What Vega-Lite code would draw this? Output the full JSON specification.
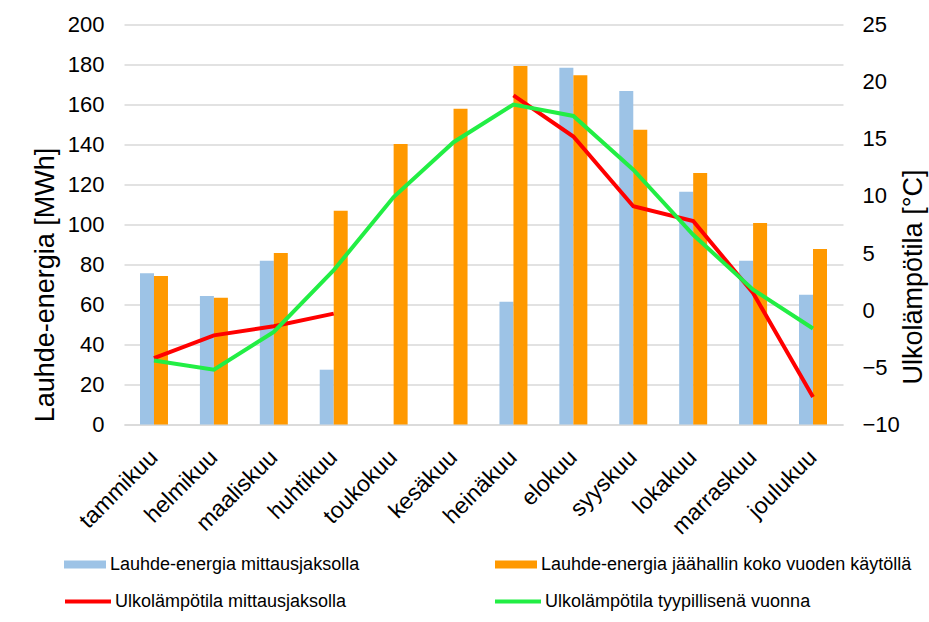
{
  "$schema": "https://vega.github.io/schema/vega-lite/v6.json",
  "autosize": {"type": "none"},
  "width": 719,
  "height": 400,
  "padding": {"left": 124, "top": 24.5, "right": 86, "bottom": 197.5},
  "background": "white",
  "config": {
    "font": "Liberation Sans",
    "view": {"stroke": null},
    "axis": {
      "labelColor": "#000000",
      "titleColor": "#000000",
      "labelFont": "Liberation Sans",
      "titleFont": "Liberation Sans",
      "titleFontWeight": "normal",
      "ticks": false
    },
    "legend": {
      "labelFont": "Liberation Sans",
      "labelFontSize": 18,
      "labelColor": "#000000",
      "padding": 0,
      "labelLimit": 400
    }
  },
  "data": {
    "values": [
      {"kuukausi": "tammikuu", "Lauhde-energia mittausjaksolla": 75.6, "Lauhde-energia jäähallin koko vuoden käytöllä": 74.2, "Ulkolämpötila mittausjaksolla": -4.2, "Ulkolämpötila tyypillisenä vuonna": -4.4},
      {"kuukausi": "helmikuu", "Lauhde-energia mittausjaksolla": 64.2, "Lauhde-energia jäähallin koko vuoden käytöllä": 63.4, "Ulkolämpötila mittausjaksolla": -2.2, "Ulkolämpötila tyypillisenä vuonna": -5.2},
      {"kuukausi": "maaliskuu", "Lauhde-energia mittausjaksolla": 81.9, "Lauhde-energia jäähallin koko vuoden käytöllä": 85.7, "Ulkolämpötila mittausjaksolla": -1.4, "Ulkolämpötila tyypillisenä vuonna": -1.9},
      {"kuukausi": "huhtikuu", "Lauhde-energia mittausjaksolla": 27.4, "Lauhde-energia jäähallin koko vuoden käytöllä": 106.9, "Ulkolämpötila mittausjaksolla": -0.3, "Ulkolämpötila tyypillisenä vuonna": 3.5},
      {"kuukausi": "toukokuu", "Lauhde-energia mittausjaksolla": null, "Lauhde-energia jäähallin koko vuoden käytöllä": 140.2, "Ulkolämpötila mittausjaksolla": null, "Ulkolämpötila tyypillisenä vuonna": 9.9},
      {"kuukausi": "kesäkuu", "Lauhde-energia mittausjaksolla": null, "Lauhde-energia jäähallin koko vuoden käytöllä": 157.9, "Ulkolämpötila mittausjaksolla": null, "Ulkolämpötila tyypillisenä vuonna": 14.7},
      {"kuukausi": "heinäkuu", "Lauhde-energia mittausjaksolla": 61.4, "Lauhde-energia jäähallin koko vuoden käytöllä": 179.2, "Ulkolämpötila mittausjaksolla": 18.8, "Ulkolämpötila tyypillisenä vuonna": 18.0},
      {"kuukausi": "elokuu", "Lauhde-energia mittausjaksolla": 178.4, "Lauhde-energia jäähallin koko vuoden käytöllä": 174.6, "Ulkolämpötila mittausjaksolla": 15.2, "Ulkolämpötila tyypillisenä vuonna": 17.0},
      {"kuukausi": "syyskuu", "Lauhde-energia mittausjaksolla": 166.7, "Lauhde-energia jäähallin koko vuoden käytöllä": 147.4, "Ulkolämpötila mittausjaksolla": 9.1, "Ulkolämpötila tyypillisenä vuonna": 12.3},
      {"kuukausi": "lokakuu", "Lauhde-energia mittausjaksolla": 116.4, "Lauhde-energia jäähallin koko vuoden käytöllä": 125.7, "Ulkolämpötila mittausjaksolla": 7.8, "Ulkolämpötila tyypillisenä vuonna": 6.6},
      {"kuukausi": "marraskuu", "Lauhde-energia mittausjaksolla": 81.9, "Lauhde-energia jäähallin koko vuoden käytöllä": 100.7, "Ulkolämpötila mittausjaksolla": 1.5, "Ulkolämpötila tyypillisenä vuonna": 1.8},
      {"kuukausi": "joulukuu", "Lauhde-energia mittausjaksolla": 64.9, "Lauhde-energia jäähallin koko vuoden käytöllä": 87.7, "Ulkolämpötila mittausjaksolla": -7.6, "Ulkolämpötila tyypillisenä vuonna": -1.6}
    ]
  },
  "layer": [
    {
      "transform": [
        {"fold": ["Lauhde-energia mittausjaksolla", "Lauhde-energia jäähallin koko vuoden käytöllä"], "as": ["sarja", "energia"]}
      ],
      "mark": {"type": "bar"},
      "encoding": {
        "x": {
          "field": "kuukausi",
          "type": "nominal",
          "sort": ["tammikuu", "helmikuu", "maaliskuu", "huhtikuu", "toukokuu", "kesäkuu", "heinäkuu", "elokuu", "syyskuu", "lokakuu", "marraskuu", "joulukuu"],
          "scale": {"paddingInner": 0.533, "paddingOuter": 0.267},
          "axis": {
            "title": null,
            "labelAngle": -45,
            "labelAlign": "right",
            "labelBaseline": "middle",
            "labelFontSize": 23,
            "labelPadding": 29,
            "domainColor": "#d9d9d9",
            "domainWidth": 1.5
          }
        },
        "xOffset": {
          "field": "sarja",
          "type": "nominal",
          "sort": ["Lauhde-energia mittausjaksolla", "Lauhde-energia jäähallin koko vuoden käytöllä"],
          "scale": {"paddingInner": 0, "paddingOuter": 0}
        },
        "y": {
          "field": "energia",
          "type": "quantitative",
          "scale": {"domain": [0, 200], "nice": false},
          "axis": {
            "title": "Lauhde-energia [MWh]",
            "titleFontSize": 27,
            "titleAngle": 270,
            "titleBaseline": "middle",
            "titleAlign": "center",
            "titleX": -79,
            "titleY": 260,
            "values": [0, 20, 40, 60, 80, 100, 120, 140, 160, 180, 200],
            "labelFontSize": 22,
            "labelPadding": 20,
            "domain": false,
            "grid": true,
            "gridColor": "#d9d9d9",
            "gridWidth": 1.5
          }
        },
        "fill": {
          "field": "sarja",
          "type": "nominal",
          "scale": {
            "domain": ["Lauhde-energia mittausjaksolla", "Lauhde-energia jäähallin koko vuoden käytöllä"],
            "range": ["#9dc3e6", "#ff9900"]
          },
          "legend": {
            "title": null,
            "orient": "none",
            "legendX": -60,
            "legendY": 519,
            "direction": "horizontal",
            "columns": 2,
            "columnPadding": 135,
            "labelOffset": 4,
            "symbolType": "M-1,-0.19H1V0.19H-1Z",
            "symbolSize": 1764,
            "symbolStrokeWidth": 0
          }
        }
      }
    },
    {
      "transform": [
        {"fold": ["Ulkolämpötila mittausjaksolla", "Ulkolämpötila tyypillisenä vuonna"], "as": ["sarja", "lampotila"]}
      ],
      "mark": {"type": "line", "strokeWidth": 4, "invalid": "break-paths-show-domains"},
      "encoding": {
        "x": {
          "field": "kuukausi",
          "type": "nominal",
          "sort": ["tammikuu", "helmikuu", "maaliskuu", "huhtikuu", "toukokuu", "kesäkuu", "heinäkuu", "elokuu", "syyskuu", "lokakuu", "marraskuu", "joulukuu"]
        },
        "y": {
          "field": "lampotila",
          "type": "quantitative",
          "scale": {"domain": [-10, 25], "nice": false},
          "axis": {
            "orient": "right",
            "title": "Ulkolämpötila [°C]",
            "titleAngle": 270,
            "titleBaseline": "middle",
            "titleAlign": "center",
            "titleX": 70,
            "titleY": 252,
            "titleFontSize": 27,
            "values": [-10, -5, 0, 5, 10, 15, 20, 25],
            "labelFontSize": 22,
            "labelPadding": 19,
            "domain": false,
            "grid": false
          }
        },
        "stroke": {
          "field": "sarja",
          "type": "nominal",
          "scale": {
            "domain": ["Ulkolämpötila mittausjaksolla", "Ulkolämpötila tyypillisenä vuonna"],
            "range": ["#ff0000", "#22ee44"]
          },
          "legend": {
            "title": null,
            "orient": "none",
            "legendX": -61,
            "legendY": 552,
            "direction": "horizontal",
            "columns": 2,
            "columnPadding": 140,
            "labelOffset": 2,
            "symbolType": "stroke",
            "symbolSize": 2116,
            "symbolStrokeWidth": 4
          }
        }
      }
    }
  ],
  "resolve": {"scale": {"y": "independent"}}
}
